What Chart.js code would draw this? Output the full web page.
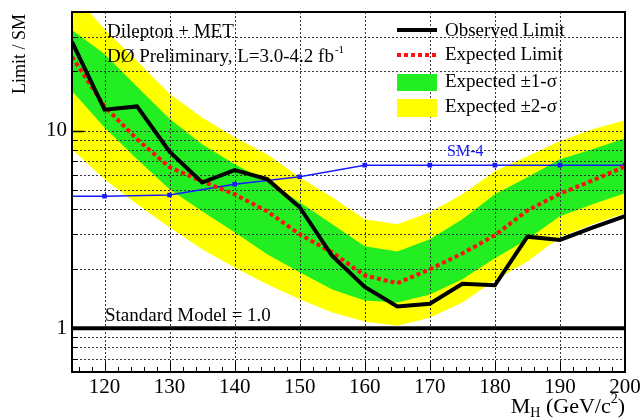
<!DOCTYPE html>
<html>
<head>
<meta charset="utf-8">
<script src="https://cdn.jsdelivr.net/npm/chart.js@4.4.0/dist/chart.umd.min.js"></script>
<style>
  html, body { margin: 0; padding: 0; background: #fff; }
  canvas { display: block; }
</style>
</head>
<body>
<canvas id="chart" width="641" height="420"></canvas>
<script>
// Higgs mass points (GeV/c^2)
const massPoints   = [115, 120, 125, 130, 135, 140, 145, 150, 155, 160, 165, 170, 175, 180, 185, 190, 195, 200];
// 95% CL limit / SM cross section
const observed     = [28.2, 12.8, 13.3, 7.85, 5.47, 6.32, 5.69, 4.1, 2.32, 1.62, 1.29, 1.33, 1.68, 1.65, 2.91, 2.80, 3.23, 3.70];
const expected     = [23.7, 13.3, 9.07, 6.54, 5.55, 4.77, 3.91, 2.99, 2.42, 1.85, 1.69, 1.99, 2.39, 2.96, 3.95, 4.80, 5.60, 6.60];
const expPlus2Sig  = [50.0, 32.8, 22.6, 15.4, 11.7, 9.29, 7.62, 5.82, 4.61, 3.56, 3.36, 3.87, 4.77, 6.24, 7.44, 8.87, 10.2, 11.3];
const expPlus1Sig  = [32.4, 24.5, 16.7, 11.5, 8.56, 6.78, 5.55, 4.35, 3.36, 2.60, 2.45, 2.82, 3.56, 4.77, 5.82, 7.18, 8.07, 9.18];
const expMinus1Sig = [15.9, 10.4, 7.18, 5.06, 3.91, 3.06, 2.37, 1.92, 1.57, 1.38, 1.35, 1.48, 1.77, 2.26, 2.82, 3.69, 4.25, 4.83];
const expMinus2Sig = [8.07, 5.69, 4.25, 3.24, 2.51, 2.03, 1.67, 1.40, 1.20, 1.08, 1.03, 1.13, 1.35, 1.75, 2.18, 2.89, 3.36, 3.82];
// Fourth-generation model prediction
const sm4Mass      = [115, 120, 130, 140, 150, 160, 170, 180, 190, 200];
const sm4Limit     = [4.66, 4.66, 4.73, 5.36, 5.85, 6.70, 6.70, 6.70, 6.70, 6.70];
const smLevel      = 1.0;
// Axis ticks
const xTickLabels  = [120, 130, 140, 150, 160, 170, 180, 190, 200];
const yTickLabels  = [1, 10];
const yMinorTicks  = [0.7, 0.8, 0.9, 2, 3, 4, 5, 6, 7, 8, 9, 20, 30];

const SERIF = '"Liberation Serif", "DejaVu Serif", serif';
const pts = (xs, ys) => xs.map((x, i) => ({ x, y: ys[i] }));
const GREEN_BAND = 2;

function drawGrid(chart) {
  const { ctx, chartArea: a, scales: { x, y } } = chart;
  ctx.save();
  ctx.beginPath();
  ctx.rect(a.left, a.top, a.right - a.left, a.bottom - a.top);
  ctx.clip();
  ctx.strokeStyle = '#333';
  ctx.lineWidth = 1;
  ctx.setLineDash([2, 2]);
  xTickLabels.forEach(v => {
    const px = Math.round(x.getPixelForValue(v)) + 0.5;
    ctx.beginPath(); ctx.moveTo(px, a.top); ctx.lineTo(px, a.bottom); ctx.stroke();
  });
  yMinorTicks.concat(yTickLabels).forEach(v => {
    const py = Math.round(y.getPixelForValue(v)) + 0.5;
    ctx.beginPath(); ctx.moveTo(a.left, py); ctx.lineTo(a.right, py); ctx.stroke();
  });
  ctx.restore();
}

const decor = {
  id: 'decor',
  afterDatasetDraw(chart, args) {
    if (args.index === GREEN_BAND) drawGrid(chart);
  },
  afterDraw(chart) {
    const { ctx, chartArea: a, scales: { x, y } } = chart;
    ctx.save();
    // frame
    ctx.strokeStyle = '#000';
    ctx.lineWidth = 2;
    ctx.strokeRect(a.left, a.top, a.right - a.left, a.bottom - a.top);
    // x ticks (inside)
    ctx.lineWidth = 1;
    for (let v = 116; v < 200; v += 2) {
      const px = Math.round(x.getPixelForValue(v)) + 0.5;
      const len = v % 10 === 0 ? 10 : 5;
      ctx.beginPath(); ctx.moveTo(px, a.bottom); ctx.lineTo(px, a.bottom - len); ctx.stroke();
    }
    // y ticks (inside)
    yMinorTicks.forEach(v => {
      const py = Math.round(y.getPixelForValue(v)) + 0.5;
      ctx.beginPath(); ctx.moveTo(a.left, py); ctx.lineTo(a.left + 6, py); ctx.stroke();
    });
    ctx.lineWidth = 1.5;
    yTickLabels.forEach(v => {
      const py = Math.round(y.getPixelForValue(v)) + 0.5;
      ctx.beginPath(); ctx.moveTo(a.left, py); ctx.lineTo(a.left + 12, py); ctx.stroke();
    });

    ctx.fillStyle = '#000';
    // tick labels
    ctx.font = `21px ${SERIF}`;
    ctx.textAlign = 'center';
    ctx.textBaseline = 'middle';
    xTickLabels.forEach(v => ctx.fillText(String(v), x.getPixelForValue(v), a.bottom + 15));
    ctx.textAlign = 'right';
    yTickLabels.forEach(v => ctx.fillText(String(v), a.left - 5, y.getPixelForValue(v)));

    // axis titles
    ctx.save();
    ctx.font = `18px ${SERIF}`;
    ctx.translate(20, 54);
    ctx.rotate(-Math.PI / 2);
    ctx.textAlign = 'center';
    ctx.fillText('Limit / SM', 0, 0);
    ctx.restore();

    ctx.textAlign = 'left';
    const parts = [
      { t: 'M', f: 22, dy: 0 },
      { t: 'H', f: 14, dy: 6 },
      { t: ' (GeV/c', f: 22, dy: 0 },
      { t: '2', f: 14, dy: -8 },
      { t: ')', f: 22, dy: 0 }
    ];
    let total = 0;
    parts.forEach(p => { ctx.font = `${p.f}px ${SERIF}`; p.w = ctx.measureText(p.t).width; total += p.w; });
    let cx = a.right - total;
    parts.forEach(p => { ctx.font = `${p.f}px ${SERIF}`; ctx.fillText(p.t, cx, 407 + p.dy); cx += p.w; });

    // captions
    ctx.font = `19px ${SERIF}`;
    ctx.fillText('Dilepton + MET', 107, 32);
    const lumi = 'D\u00d8 Preliminary, L=3.0-4.2 fb';
    ctx.fillText(lumi, 107, 57);
    const lw = ctx.measureText(lumi).width;
    ctx.font = `11px ${SERIF}`;
    ctx.fillText('-1', 107 + lw + 1, 50);
    ctx.font = `19px ${SERIF}`;
    ctx.fillText('Standard Model = 1.0', 105, y.getPixelForValue(smLevel) - 12);

    ctx.fillStyle = '#1a1aff';
    ctx.font = `16px ${SERIF}`;
    ctx.fillText('SM-4', 447, 152);

    // legend
    const lx0 = 397, lx1 = 437, tx = 445;
    ctx.strokeStyle = '#000';
    ctx.lineWidth = 4;
    ctx.setLineDash([]);
    ctx.beginPath(); ctx.moveTo(lx0, 30); ctx.lineTo(lx1, 30); ctx.stroke();
    ctx.strokeStyle = '#ff1010';
    ctx.setLineDash([4, 3]);
    ctx.beginPath(); ctx.moveTo(lx0, 55); ctx.lineTo(lx1, 55); ctx.stroke();
    ctx.setLineDash([]);
    ctx.fillStyle = '#22ee22';
    ctx.fillRect(lx0, 74, lx1 - lx0, 17);
    ctx.fillStyle = '#ffff00';
    ctx.fillRect(lx0, 99, lx1 - lx0, 18);
    ctx.fillStyle = '#000';
    ctx.font = `19px ${SERIF}`;
    ctx.fillText('Observed Limit', tx, 31);
    ctx.fillText('Expected Limit', tx, 55);
    ctx.fillText('Expected \u00b11-\u03c3', tx, 82);
    ctx.fillText('Expected \u00b12-\u03c3', tx, 107);
    ctx.restore();
  }
};

new Chart(document.getElementById('chart'), {
  type: 'line',
  data: {
    datasets: [
      { data: pts(massPoints, expPlus2Sig), fill: '+1', backgroundColor: '#ffff00', borderWidth: 0, pointRadius: 0, order: 6 },
      { data: pts(massPoints, expMinus2Sig), fill: false, borderWidth: 0, pointRadius: 0, order: 6 },
      { data: pts(massPoints, expPlus1Sig), fill: '+1', backgroundColor: '#22ee22', borderWidth: 0, pointRadius: 0, order: 5 },
      { data: pts(massPoints, expMinus1Sig), fill: false, borderWidth: 0, pointRadius: 0, order: 5 },
      { data: pts([115, 200], [smLevel, smLevel]), borderColor: '#000', borderWidth: 4, pointRadius: 0, fill: false, order: 4 },
      { data: pts(sm4Mass, sm4Limit), borderColor: '#1a1aff', backgroundColor: '#1a1aff', borderWidth: 1.5,
        pointStyle: 'rect', pointRadius: sm4Mass.map(m => m === 115 ? 0 : 2.2), fill: false, order: 3 },
      { data: pts(massPoints, expected), borderColor: '#ff1010', borderWidth: 4, borderDash: [4, 3],
        borderCapStyle: 'butt', pointRadius: 0, fill: false, order: 2 },
      { data: pts(massPoints, observed), borderColor: '#000', borderWidth: 4, pointRadius: 0, fill: false, order: 1 }
    ]
  },
  options: {
    responsive: false,
    animation: false,
    events: [],
    layout: { padding: { left: 72, right: 16, top: 12, bottom: 48 } },
    plugins: { legend: { display: false }, tooltip: { enabled: false } },
    scales: {
      x: { type: 'linear', min: 115, max: 200, display: false },
      y: { type: 'logarithmic', min: 0.6, max: 40, display: false }
    }
  },
  plugins: [decor]
});
</script>
</body>
</html>
